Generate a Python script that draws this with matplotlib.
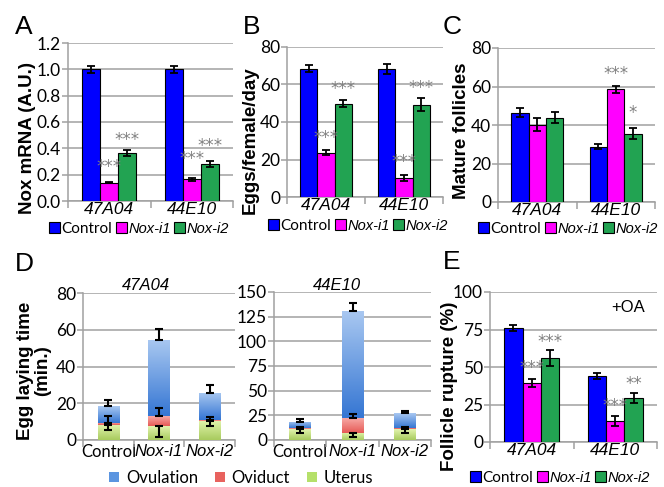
import numpy as np
import matplotlib
matplotlib.use('Agg')
import matplotlib.pyplot as plt
from matplotlib.patches import Patch
from matplotlib.colors import LinearSegmentedColormap

plt.rcParams['font.family'] = ['Lato', 'DejaVu Sans']

# ---- data ----
lines = ['47A04', '44E10']
series = ['Control', 'Nox-i1', 'Nox-i2']

a_ctrl = [1.0, 1.0]
a_i1 = [0.14, 0.166]
a_i2 = [0.365, 0.28]
a_ctrl_err = [0.025, 0.025]
a_i1_err = [0.006, 0.012]
a_i2_err = [0.022, 0.025]
a_stars = [['', '***', '***'], ['', '***', '***']]
a_star_y = [[0, 0.26, 0.46], [0, 0.32, 0.42]]

b_ctrl = [68.4, 68.4]
b_i1 = [23.6, 10.1]
b_i2 = [49.8, 49.2]
b_ctrl_err = [1.8, 2.7]
b_i1_err = [1.3, 1.8]
b_i2_err = [1.8, 3.4]
b_stars = [['', '***', '***'], ['', '***', '***']]
b_star_y = [[0, 31.5, 57.6], [0, 18.7, 58]]

c_ctrl = [46.4, 28.6]
c_i1 = [40.2, 58.5]
c_i2 = [43.8, 35.5]
c_ctrl_err = [2.4, 1.3]
c_i1_err = [3.2, 2.0]
c_i2_err = [2.9, 3.0]
c_stars = [['', '', ''], ['', '***', '*']]
c_star_y = [[0, 0, 0], [0, 66.5, 46]]

e_ctrl = [76, 44]
e_i1 = [39.3, 14]
e_i2 = [56.2, 29.3]
e_ctrl_err = [1.7, 1.9]
e_i1_err = [2.8, 3.5]
e_i2_err = [5.3, 3.3]
e_stars = [['', '***', '***'], ['', '***', '**']]
e_star_y = [[0, 49, 67], [0, 24, 39]]

# panel D: stacked segments (minutes)
d47_uterus = [8.2, 7.6, 10.4]
d47_oviduct = [1.3, 5.4, 0.3]
d47_ovulation = [9.2, 41.5, 15.1]
d47_uterus_err = [2.7, 5.8, 2.8]
d47_oviduct_err = [3.5, 4.3, 1.7]
d47_ovulation_err = [3.1, 6.0, 4.2]

d44_uterus = [10.8, 7.4, 10.8]
d44_oviduct = [1.0, 14.6, 1.7]
d44_ovulation = [6.7, 108.7, 14.5]
d44_uterus_err = [3.4, 4.0, 4.1]
d44_oviduct_err = [1.0, 4.0, 1.0]
d44_ovulation_err = [2.7, 7.8, 2.3]

W, H = 664, 487
fig = plt.figure(figsize=(W / 100, H / 100), dpi=100)

col = ['#0000ff', '#ff00ff', '#22a352']
grid_c = '#a0a0a0'
star_c = '#808080'


def add_ax(l, t, r, b):
    return fig.add_axes([l / W, 1 - b / H, (r - l) / W, (b - t) / H])


def style(ax, ymax, step, fmt, ncat):
    ax.set_ylim(0, ymax)
    ax.set_xlim(-0.5, ncat - 0.5)
    ticks = np.arange(0, ymax + step / 2, step)
    ax.set_yticks(ticks)
    ax.set_yticklabels([fmt.format(t) for t in ticks])
    ax.yaxis.grid(True, color=grid_c, lw=1.1)
    ax.set_axisbelow(True)
    for s in ['top', 'right']:
        ax.spines[s].set_visible(False)
    for s in ['left', 'bottom']:
        ax.spines[s].set_color(grid_c)
        ax.spines[s].set_linewidth(1.1)
    ax.tick_params(axis='y', length=4, width=1.1, color=grid_c, pad=1,
                   labelsize=12.5)
    ax.set_xticks(np.arange(-0.5, ncat, 1.0), minor=True)
    ax.tick_params(axis='x', which='minor', length=5, width=1.1, color=grid_c)
    ax.tick_params(axis='x', which='major', length=0, pad=1)


def grouped(ax, vals, errs, stars, star_y):
    x = np.arange(2)
    w = 0.22
    for k in range(3):
        ax.bar(x + (k - 1) * w, vals[k], w, yerr=errs[k], color=col[k],
               edgecolor='black', lw=0.8, capsize=3, zorder=3,
               error_kw=dict(elinewidth=1.3, capthick=1.3, ecolor='black'))
        for g in range(2):
            if stars[g][k]:
                ax.text(g + (k - 1) * w, star_y[g][k], stars[g][k],
                        ha='center', va='center', color=star_c,
                        fontsize=12, family='DejaVu Sans', zorder=4)
    ax.set_xticks(x)
    ax.set_xticklabels(lines, fontsize=12.5, style='italic',
                       family='Liberation Sans')


def bar_legend(cx, cy):
    handles = [Patch(facecolor=c, edgecolor='black', lw=0.8) for c in col]
    leg = fig.legend(handles, series, loc='center', ncol=3,
                     bbox_to_anchor=(cx / W, 1 - cy / H), frameon=False,
                     fontsize=11, handlelength=0.75, handleheight=0.75,
                     handletextpad=0.1, columnspacing=0.2,
                     borderpad=0, borderaxespad=0)
    for t in leg.get_texts()[1:]:
        t.set_fontstyle('italic')
        t.set_family('Liberation Sans')
        t.set_fontsize(10.5)
    return leg


def ylabel(x, y, s):
    fig.text(x / W, 1 - y / H, s, rotation=90, ha='center', va='center',
             fontsize=13.5, fontweight='bold', family='Liberation Sans',
             linespacing=0.95)


def letter(x, y, s):
    fig.text(x / W, 1 - y / H, s, ha='left', va='top', fontsize=19,
             family='Liberation Sans')


# ---- A ----
axA = add_ax(68, 43, 233, 201)
grouped(axA, [a_ctrl, a_i1, a_i2], [a_ctrl_err, a_i1_err, a_i2_err],
        a_stars, a_star_y)
style(axA, 1.2, 0.2, '{:.1f}', 2)
ylabel(28, 138, 'Nox mRNA (A.U.)')
letter(15, 15, 'A')
bar_legend(139, 229)

# ---- B ----
axB = add_ax(287, 47, 443, 197)
grouped(axB, [b_ctrl, b_i1, b_i2], [b_ctrl_err, b_i1_err, b_i2_err],
        b_stars, b_star_y)
style(axB, 80, 20, '{:.0f}', 2)
ylabel(250, 140, 'Eggs/female/day')
letter(243, 15, 'B')
bar_legend(358, 226)

# ---- C ----
axC = add_ax(498, 48, 655, 202)
grouped(axC, [c_ctrl, c_i1, c_i2], [c_ctrl_err, c_i1_err, c_i2_err],
        c_stars, c_star_y)
style(axC, 80, 20, '{:.0f}', 2)
ylabel(462, 131, 'Mature follicles')
letter(443, 15, 'C')
bar_legend(568, 229)

# ---- E ----
axE = add_ax(490, 292, 657, 442)
grouped(axE, [e_ctrl, e_i1, e_i2], [e_ctrl_err, e_i1_err, e_i2_err],
        e_stars, e_star_y)
style(axE, 100, 25, '{:.0f}', 2)
ylabel(449, 386, 'Follicle rupture (%)')
letter(443, 250, 'E')
axE.text(0.93, 0.9, '+OA', transform=axE.transAxes, ha='right', va='center',
         fontsize=12, family='Liberation Sans')
bar_legend(560, 478)

# ---- D ----
seg_cols = [('#a8cb5e', '#e2f4ae'), ('#e65a56', '#f7a8a4'),
            ('#3576d3', '#a9c8f1')]
seg_leg = ['#5b95e0', '#e8625e', '#b5e06a']


def stacked(ax, ut, ov, ovu, ut_e, ov_e, ovu_e, ymax, step, title, tx):
    x = np.arange(3)
    w = 0.42
    bottoms = np.zeros(3)
    segs = [ut, ov, ovu]
    tops = []
    for k, vals in enumerate(segs):
        bars = ax.bar(x, vals, w, bottom=bottoms, color='none',
                      edgecolor='none', zorder=3)
        cmap = LinearSegmentedColormap.from_list('g', seg_cols[k])
        for b in bars:
            x0, y0 = b.get_x(), b.get_y()
            grad = np.linspace(0, 1, 64).reshape(-1, 1)
            im = ax.imshow(grad, extent=[x0, x0 + b.get_width(), y0,
                                         y0 + b.get_height()],
                           origin='lower', aspect='auto', cmap=cmap,
                           zorder=3)
            im.set_clip_path(b)
        bottoms = bottoms + np.array(vals)
        tops.append(bottoms.copy())
    ek = dict(fmt='none', ecolor='black', elinewidth=1.5, capsize=3,
              capthick=1.5, zorder=4)
    ax.errorbar(x, tops[0], yerr=[ut_e, np.zeros(3)], **ek)
    ax.errorbar(x, tops[1], yerr=[np.zeros(3), ov_e], **ek)
    ax.errorbar(x, tops[2], yerr=[np.zeros(3), ovu_e], **ek)
    style(ax, ymax, step, '{:.0f}', 3)
    ax.set_xticks(x)
    ax.set_xticklabels(series, fontsize=12)
    ax.tick_params(axis='x', which='major', pad=3)
    for t in ax.get_xticklabels()[1:]:
        t.set_fontstyle('italic')
        t.set_family('Liberation Sans')
    fig.text(tx / W, 1 - 285 / H, title, ha='center', va='center',
             fontsize=12, style='italic', family='Liberation Sans')


axD1 = add_ax(83, 293, 235, 440)
stacked(axD1, d47_uterus, d47_oviduct, d47_ovulation, d47_uterus_err,
        d47_oviduct_err, d47_ovulation_err, 80, 20, '47A04', 146)
axD2 = add_ax(274, 292, 431, 440)
stacked(axD2, d44_uterus, d44_oviduct, d44_ovulation, d44_uterus_err,
        d44_oviduct_err, d44_ovulation_err, 150, 25, '44E10', 337)
ylabel(34, 371, 'Egg laying time\n(min.)')
letter(15, 252, 'D')

handles = [Patch(facecolor=c, edgecolor='none') for c in seg_leg]
fig.legend(handles, ['Ovulation', 'Oviduct', 'Uterus'], loc='center',
           ncol=3, bbox_to_anchor=(241 / W, 1 - 478 / H), frameon=False,
           fontsize=12, handlelength=0.6, handleheight=0.6,
           handletextpad=0.4, columnspacing=1.0, borderpad=0,
           borderaxespad=0)

fig.savefig('out.png', dpi=100)
